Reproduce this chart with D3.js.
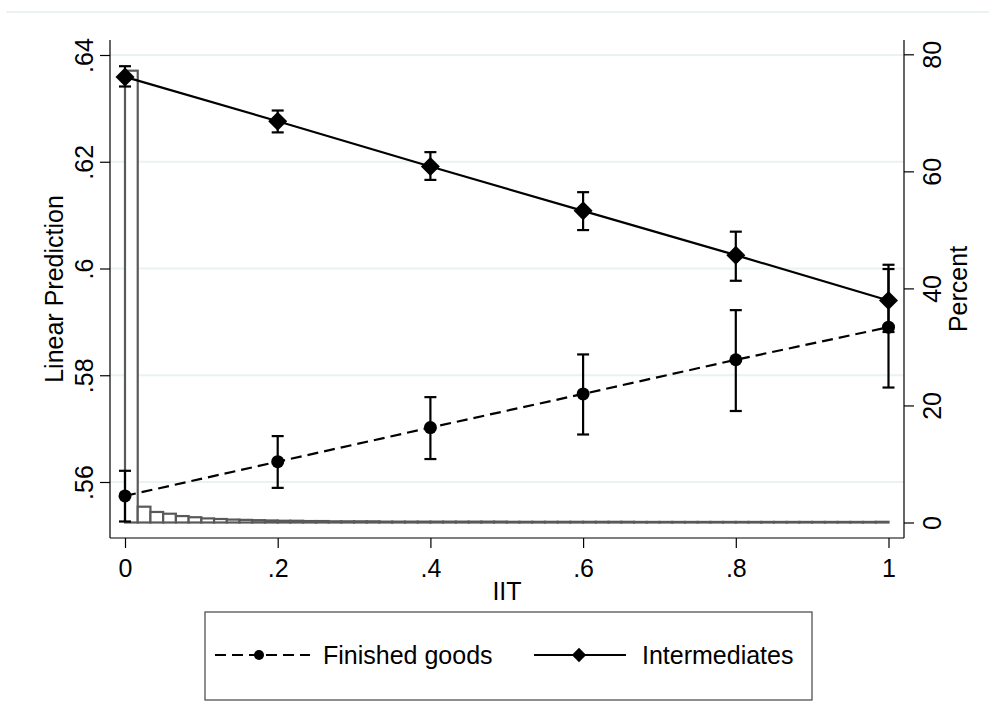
<!DOCTYPE html>
<html>
<head>
<meta charset="utf-8">
<script src="https://cdn.jsdelivr.net/npm/d3@7"></script>
<style>
  body { margin: 0; background: #fff; }
  svg { display: block; font-family: "Liberation Sans", Arial, sans-serif; }
</style>
</head>
<body>
<svg id="chart" width="989" height="726"></svg>
<script>
// IIT values on the x axis
let iit = [0, 0.2, 0.4, 0.6, 0.8, 1]
let iitLabels = ['0', '.2', '.4', '.6', '.8', '1']

// linear prediction with 95% CI
let finished   = [0.5574, 0.5638, 0.5702, 0.5765, 0.5829, 0.5890]
let finishedLo = [0.5526, 0.5589, 0.5643, 0.5689, 0.5733, 0.5777]
let finishedHi = [0.5621, 0.5686, 0.5759, 0.5839, 0.5922, 0.6007]

let intermediates = [0.6359, 0.6276, 0.6191, 0.6108, 0.6025, 0.5940]
let intermLo      = [0.6341, 0.6255, 0.6166, 0.6072, 0.5977, 0.5881]
let intermHi      = [0.6379, 0.6296, 0.6218, 0.6143, 0.6069, 0.5999]

let leftTicks = [0.56, 0.58, 0.6, 0.62, 0.64]
let leftLabels = ['.56', '.58', '.6', '.62', '.64']
let rightTicks = [0, 20, 40, 60, 80]

// histogram of IIT, 60 bins of width 1/60, in percent
let histPct = [77.2, 2.7, 1.8, 1.5, 1.1, 0.9, 0.7, 0.6, 0.5, 0.45,
               0.4, 0.35, 0.3, 0.3, 0.25, 0.25, 0.2, 0.2, 0.2, 0.2,
               0.15, 0.15, 0.15, 0.15, 0.15, 0.15, 0.15, 0.15, 0.15, 0.15,
               0.12, 0.12, 0.12, 0.12, 0.12, 0.12, 0.12, 0.12, 0.12, 0.12,
               0.1, 0.1, 0.1, 0.1, 0.1, 0.1, 0.1, 0.1, 0.1, 0.1,
               0.1, 0.1, 0.1, 0.1, 0.1, 0.1, 0.1, 0.1, 0.1, 0.12]

let svg = d3.select('#chart')

// plot frame
let pLeft = 110, pRight = 904, pTop = 40, pBottom = 538

let x = d3.scaleLinear().domain([0, 1]).range([125, 888.5])
let yL = d3.scaleLinear().domain([0.56, 0.64]).range([482, 55])
let yR = d3.scaleLinear().domain([0, 80]).range([522.5, 54.3])

// faint line on top of graph region
svg.append('line')
   .attr('x1', 6).attr('x2', 989).attr('y1', 12).attr('y2', 12)
   .attr('stroke', '#e6eef0').attr('stroke-width', 1.5)

// gridlines
svg.selectAll('.grid')
   .data(leftTicks)
   .enter()
   .append('line')
   .attr('class', 'grid')
   .attr('x1', pLeft).attr('x2', pRight)
   .attr('y1', d => yL(d)).attr('y2', d => yL(d))
   .attr('stroke', '#eaf2f3').attr('stroke-width', 2)

// histogram
let binW = 1 / histPct.length
svg.selectAll('.bar')
   .data(histPct)
   .enter()
   .append('rect')
   .attr('class', 'bar')
   .attr('x', (d, i) => x(i * binW))
   .attr('width', x(binW) - x(0))
   .attr('y', d => yR(d))
   .attr('height', d => yR(0) - yR(d))
   .attr('fill', '#fff')
   .attr('stroke', '#595959')
   .attr('stroke-width', 2.2)

// error bars
let drawErr = (lo, hi) => {
    let g = svg.append('g')
               .attr('stroke', '#000').attr('stroke-width', 2.2)
    iit.forEach((v, i) => {
        g.append('line')
         .attr('x1', x(v)).attr('x2', x(v))
         .attr('y1', yL(lo[i])).attr('y2', yL(hi[i]))
        ;[lo[i], hi[i]].forEach(e => {
            g.append('line')
             .attr('x1', x(v) - 6).attr('x2', x(v) + 6)
             .attr('y1', yL(e)).attr('y2', yL(e))
        })
    })
}
drawErr(finishedLo, finishedHi)
drawErr(intermLo, intermHi)

let line = d3.line().x(d => x(d[0])).y(d => yL(d[1]))

svg.append('path')
   .datum(iit.map((v, i) => [v, finished[i]]))
   .attr('d', line)
   .attr('fill', 'none').attr('stroke', '#000').attr('stroke-width', 2.2)
   .attr('stroke-dasharray', '11,6')

svg.append('path')
   .datum(iit.map((v, i) => [v, intermediates[i]]))
   .attr('d', line)
   .attr('fill', 'none').attr('stroke', '#000').attr('stroke-width', 2.2)

// markers
svg.selectAll('.fin')
   .data(finished)
   .enter()
   .append('circle')
   .attr('cx', (d, i) => x(iit[i]))
   .attr('cy', d => yL(d))
   .attr('r', 6.5)
   .attr('fill', '#000')

let diamond = d3.symbol().type(d3.symbolDiamond2).size(230)
svg.selectAll('.int')
   .data(intermediates)
   .enter()
   .append('path')
   .attr('d', diamond)
   .attr('transform', (d, i) => 'translate(' + x(iit[i]) + ',' + yL(d) + ')')
   .attr('fill', '#000')

// axes lines
let frame = svg.append('g').attr('stroke', '#000').attr('stroke-width', 1.2)
frame.append('line').attr('x1', pLeft).attr('x2', pLeft).attr('y1', pTop).attr('y2', pBottom)
frame.append('line').attr('x1', pRight).attr('x2', pRight).attr('y1', pTop).attr('y2', pBottom)
frame.append('line').attr('x1', pLeft).attr('x2', pRight).attr('y1', pBottom).attr('y2', pBottom)

let fs = 25

// left axis
let gl = svg.append('g')
            .attr('transform', 'translate(' + pLeft + ',0)')
            .call(d3.axisLeft(yL).tickValues(leftTicks).tickSize(10)
                    .tickFormat((d, i) => leftLabels[i]))
gl.select('.domain').remove()
gl.selectAll('line').attr('stroke-width', 1.2)
gl.selectAll('text')
  .attr('transform', 'rotate(-90)')
  .attr('x', 0).attr('y', -17).attr('dy', 0)
  .attr('text-anchor', 'middle')
  .style('font-size', fs + 'px').style('font-family', 'Liberation Sans, Arial, sans-serif')

// right axis
let gr = svg.append('g')
            .attr('transform', 'translate(' + pRight + ',0)')
            .call(d3.axisRight(yR).tickValues(rightTicks).tickSize(10))
gr.select('.domain').remove()
gr.selectAll('line').attr('stroke-width', 1.2)
gr.selectAll('text')
  .attr('transform', 'rotate(-90)')
  .attr('x', 0).attr('y', 37).attr('dy', 0)
  .attr('text-anchor', 'middle')
  .style('font-size', fs + 'px').style('font-family', 'Liberation Sans, Arial, sans-serif')

// bottom axis
let gb = svg.append('g')
            .attr('transform', 'translate(0,' + pBottom + ')')
            .call(d3.axisBottom(x).tickValues(iit).tickSize(10)
                    .tickFormat((d, i) => iitLabels[i]))
gb.select('.domain').remove()
gb.selectAll('line').attr('stroke-width', 1.2)
gb.selectAll('text')
  .attr('y', 39).attr('dy', 0)
  .style('font-size', fs + 'px').style('font-family', 'Liberation Sans, Arial, sans-serif')

// axis titles
svg.append('text')
   .attr('transform', 'translate(63,' + (pTop + pBottom) / 2 + ') rotate(-90)')
   .attr('text-anchor', 'middle')
   .style('font-size', fs + 'px')
   .text('Linear Prediction')

svg.append('text')
   .attr('transform', 'translate(967,' + (pTop + pBottom) / 2 + ') rotate(-90)')
   .attr('text-anchor', 'middle')
   .style('font-size', fs + 'px')
   .text('Percent')

svg.append('text')
   .attr('x', (pLeft + pRight) / 2).attr('y', 600)
   .attr('text-anchor', 'middle')
   .style('font-size', fs + 'px')
   .text('IIT')

// legend
let legend = svg.append('g')
legend.append('rect')
      .attr('x', 205).attr('y', 612).attr('width', 607).attr('height', 88)
      .attr('fill', '#fff').attr('stroke', '#444').attr('stroke-width', 1.2)

let ly = 655
legend.append('line')
      .attr('x1', 215).attr('x2', 310).attr('y1', ly).attr('y2', ly)
      .attr('stroke', '#000').attr('stroke-width', 2.2).attr('stroke-dasharray', '11,6')
legend.append('circle').attr('cx', 259).attr('cy', ly).attr('r', 5).attr('fill', '#000')
legend.append('text').attr('x', 323).attr('y', ly + 9)
      .style('font-size', fs + 'px').text('Finished goods')

legend.append('line')
      .attr('x1', 534).attr('x2', 626).attr('y1', ly).attr('y2', ly)
      .attr('stroke', '#000').attr('stroke-width', 2.2)
legend.append('path')
      .attr('d', d3.symbol().type(d3.symbolDiamond2).size(130))
      .attr('transform', 'translate(579,' + ly + ')')
      .attr('fill', '#000')
legend.append('text').attr('x', 642).attr('y', ly + 9)
      .style('font-size', fs + 'px').text('Intermediates')
</script>
</body>
</html>
